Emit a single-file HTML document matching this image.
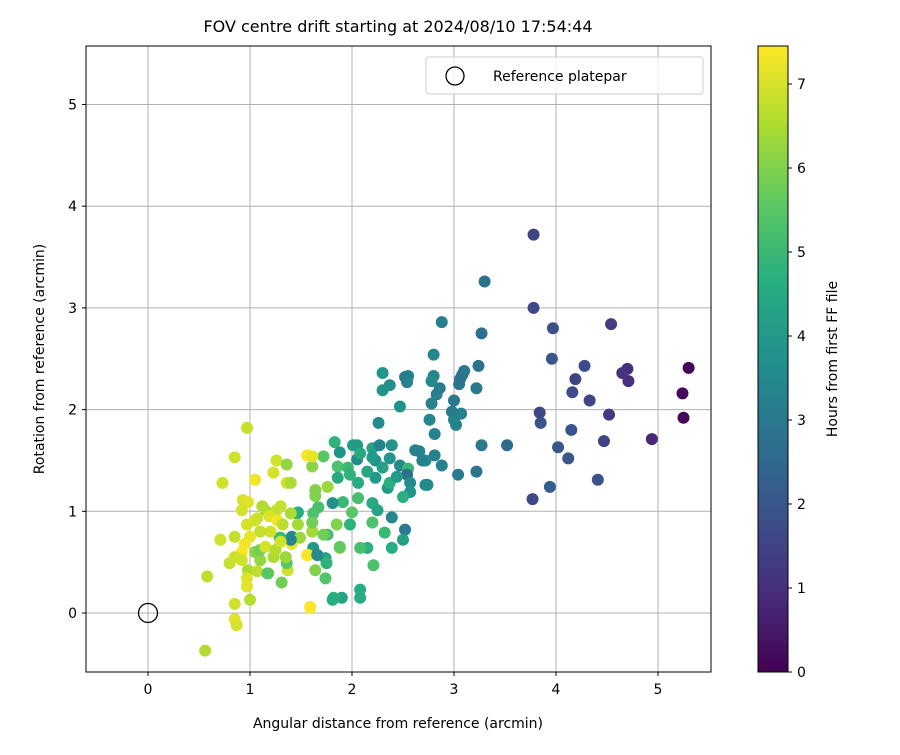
<!DOCTYPE html>
<html><head><meta charset="utf-8"><style>
body{margin:0;background:#fff}
svg text{font-family:"DejaVu Sans","Liberation Sans",sans-serif;fill:#000}
</style></head><body>
<svg id="chart" width="900" height="750" xmlns="http://www.w3.org/2000/svg">
<defs><linearGradient id="vir" x1="0" y1="1" x2="0" y2="0">
<stop offset="0" stop-color="#440154"/><stop offset="0.125" stop-color="#472d7b"/><stop offset="0.25" stop-color="#3b528b"/><stop offset="0.375" stop-color="#2c728e"/><stop offset="0.5" stop-color="#21918c"/><stop offset="0.625" stop-color="#28ae80"/><stop offset="0.75" stop-color="#5ec962"/><stop offset="0.875" stop-color="#addc30"/><stop offset="1" stop-color="#fde725"/></linearGradient>
<clipPath id="clip"><rect x="86" y="46" width="625" height="626"/></clipPath></defs>
<text x="398" y="32" font-size="16" text-anchor="middle">FOV centre drift starting at 2024/08/10 17:54:44</text>
<g id="grid"></g>
<g id="pts" clip-path="url(#clip)"></g>
<rect x="86" y="46" width="625" height="626" fill="none" stroke="#000" stroke-width="1"/>
<g id="axes"></g>
<text x="398" y="728" font-size="14" text-anchor="middle">Angular distance from reference (arcmin)</text>
<text transform="translate(44,359) rotate(-90)" font-size="14" text-anchor="middle">Rotation from reference (arcmin)</text>
<g>
<rect x="426" y="57" width="277" height="37" rx="3" fill="#fff" fill-opacity="0.8" stroke="#ccc"/>
<circle cx="455" cy="76" r="9" fill="none" stroke="#000" stroke-width="1.3"/>
<text x="493" y="81" font-size="14">Reference platepar</text>
</g>
<rect x="758" y="46" width="30" height="626" fill="url(#vir)" stroke="#000" stroke-width="1"/>
<g id="cbar"></g>
<text transform="translate(837,359) rotate(-90)" font-size="14" text-anchor="middle">Hours from first FF file</text>
</svg>
<script>
const xTicks=[0,1,2,3,4,5];
const yTicks=[0,1,2,3,4,5];
const cTicks=[0,1,2,3,4,5,6,7];
const refPoint=[0,0];
const xs=[5.30,5.24,5.25,4.94,4.70,4.71,4.65,4.54,4.52,4.47,4.33,4.28,4.19,4.16,4.15,4.12,4.41,4.02,3.97,3.96,3.94,3.85,3.84,3.78,3.78,3.77,3.52,3.30,3.27,3.27,3.24,3.22,3.22,3.10,3.08,3.06,3.05,3.07,3.00,2.98,3.02,3.00,3.04,2.88,2.80,2.80,2.78,2.83,2.86,2.78,2.76,2.81,2.81,2.88,2.74,2.72,2.66,2.55,2.52,2.54,2.47,2.37,2.30,2.30,2.26,
1.83,1.88,2.01,2.05,2.20,2.27,2.39,2.23,2.37,2.47,2.55,2.54,2.62,2.69,2.72,2.57,2.57,2.50,2.35,2.39,2.52,2.50,2.39,2.32,2.21,2.15,2.08,2.08,2.08,1.90,1.82,1.74,1.64,1.88,1.74,1.76,1.62,1.57,1.59,1.91,1.81,2.06,2.20,2.25,2.00,1.85,1.98,2.20,1.67,1.64,1.64,1.76,1.61,1.72,1.56,1.86,1.96,2.06,2.23,2.30,2.37,2.44,2.05,2.15,2.08,1.98,1.86,2.20,
0.97,0.85,0.73,1.05,1.26,1.23,1.36,1.36,1.40,1.57,1.61,0.93,0.98,0.92,1.15,1.26,1.46,1.62,1.07,1.19,1.27,1.32,0.97,0.85,0.71,0.92,1.05,0.80,0.98,1.07,1.18,1.31,1.10,1.23,1.37,1.36,1.29,1.41,1.41,1.56,1.49,1.61,1.66,0.97,0.97,1.00,0.85,0.85,0.87,0.58,0.56,1.59,1.10,0.92,0.85,1.05,1.17,1.47,1.61,1.47,1.72,1.75,1.81,1.88,1.66,1.40,1.30,
1.15,1.25,1.20,1.00,1.10,0.95,1.30,1.35,1.40,1.30,1.12];
const ys=[2.41,2.16,1.92,1.71,2.40,2.28,2.36,2.84,1.95,1.69,2.09,2.43,2.30,2.17,1.80,1.52,1.31,1.63,2.80,2.50,1.24,1.87,1.97,3.72,3.00,1.12,1.65,3.26,2.75,1.65,2.43,1.39,2.21,2.38,2.34,2.30,2.25,1.96,2.09,1.98,1.85,1.90,1.36,2.86,2.54,2.33,2.28,2.15,2.21,2.06,1.90,1.76,1.55,1.45,1.26,1.50,1.59,2.33,2.32,2.27,2.03,2.24,2.36,2.19,1.87,
1.68,1.58,1.65,1.65,1.62,1.65,1.65,1.50,1.52,1.45,1.42,1.36,1.60,1.50,1.26,1.28,1.19,1.14,1.23,0.94,0.82,0.72,0.64,0.79,0.47,0.64,0.64,0.23,0.15,0.15,0.15,0.34,0.42,0.64,0.54,0.77,0.64,0.57,0.06,1.09,1.08,1.13,1.08,1.01,0.99,0.87,0.87,0.89,1.04,1.21,1.15,1.24,1.44,1.54,1.55,1.44,1.43,1.28,1.33,1.43,1.28,1.34,1.51,1.39,1.57,1.36,1.33,1.53,
1.82,1.53,1.28,1.31,1.50,1.38,1.46,1.28,1.28,1.55,1.54,1.11,1.09,1.01,1.01,1.01,0.98,0.98,0.93,0.95,0.91,0.87,0.87,0.75,0.72,0.60,0.60,0.49,0.42,0.41,0.39,0.30,0.52,0.55,0.42,0.49,0.74,0.75,0.68,0.57,0.74,0.80,0.57,0.34,0.26,0.13,0.09,-0.06,-0.12,0.36,-0.37,0.05,0.62,0.52,0.55,0.91,0.39,0.87,0.89,0.99,0.77,0.49,0.13,0.65,0.57,0.72,0.74,
0.65,0.62,0.80,0.75,0.80,0.68,0.70,0.55,0.98,1.05,1.05];
const hours=[0.1,0.2,0.2,0.8,1.0,1.0,1.1,1.3,1.2,1.5,1.6,1.7,1.5,1.7,1.9,2.0,1.8,2.0,1.8,2.0,2.2,1.9,1.6,1.5,1.6,1.6,2.6,2.8,2.8,3.0,2.8,2.9,3.0,3.0,2.9,2.8,2.9,3.2,3.0,3.1,3.2,3.3,3.1,3.2,3.4,3.4,3.5,3.2,3.1,3.3,3.4,3.3,3.2,3.3,3.6,3.6,3.4,3.3,3.1,3.3,3.8,3.6,3.9,3.8,3.5,
4.8,3.8,4.2,4.0,4.3,3.3,3.8,3.8,3.9,3.5,5.0,2.7,3.2,3.3,3.5,3.6,3.9,4.7,4.0,3.4,3.0,4.2,4.6,5.0,5.3,4.7,5.2,4.6,4.6,4.3,4.8,5.4,6.0,6.1,4.3,5.2,4.0,7.3,7.3,5.0,3.8,5.2,4.5,4.3,5.5,6.0,4.8,5.3,5.2,6.0,6.0,6.3,6.1,5.5,7.3,5.3,5.0,4.6,4.0,4.2,4.7,4.0,3.6,4.4,4.5,4.8,4.5,4.0,
6.8,6.9,6.9,7.3,6.9,7.0,6.2,7.0,6.5,7.4,7.2,7.0,7.1,7.0,6.5,6.8,4.3,5.3,6.9,7.1,7.3,6.7,7.0,6.8,6.9,7.4,6.1,6.8,6.5,6.7,6.2,5.8,6.2,6.5,6.9,5.5,5.5,3.6,7.2,7.4,6.3,6.4,3.6,7.1,7.1,6.6,6.9,7.1,7.0,6.7,6.6,7.4,5.8,6.9,6.9,6.9,5.5,6.4,5.8,4.6,5.8,4.8,4.6,5.6,3.5,3.4,5.0,
7.0,6.6,6.9,7.2,6.8,7.3,6.9,6.3,6.5,6.8,6.6];
const NS="http://www.w3.org/2000/svg";
const X=v=>148+v*102, Y=v=>613-v*101.7, C=h=>672-h*84;
const hMax=7.45;
const stops=["#440154","#472d7b","#3b528b","#2c728e","#21918c","#28ae80","#5ec962","#addc30","#fde725"];
function hex(c){return [1,3,5].map(i=>parseInt(c.substr(i,2),16));}
function cmap(h){let t=Math.max(0,Math.min(1,h/hMax))*8;let i=Math.min(7,Math.floor(t));let f=t-i;let a=hex(stops[i]),b=hex(stops[i+1]);return "rgb("+a.map((v,k)=>Math.round(v+(b[k]-v)*f)).join(",")+")";}
function mk(tag,attrs,parent){const e=document.createElementNS(NS,tag);for(const k in attrs)e.setAttribute(k,attrs[k]);parent.appendChild(e);return e;}
const grid=document.getElementById('grid'),axes=document.getElementById('axes'),pts=document.getElementById('pts'),cbar=document.getElementById('cbar');
xTicks.forEach(v=>{
 const g=mk('line',{x1:X(v),x2:X(v),y1:46,y2:672,stroke:'#b0b0b0','stroke-width':1},grid);
 
 
 mk('line',{x1:X(v),x2:X(v),y1:672,y2:676,stroke:'#000'},axes);
 const t=mk('text',{x:X(v),y:694,'font-size':14,'text-anchor':'middle'},axes);t.textContent=v;
 
 
});
yTicks.forEach(v=>{
 const g=mk('line',{x1:86,x2:711,y1:Y(v),y2:Y(v),stroke:'#b0b0b0','stroke-width':1},grid);
 
 
 mk('line',{x1:82,x2:86,y1:Y(v),y2:Y(v),stroke:'#000'},axes);
 const t=mk('text',{x:77,y:Y(v)+5,'font-size':14,'text-anchor':'end'},axes);t.textContent=v;
 
 
});
cTicks.forEach(v=>{
 mk('line',{x1:788,x2:792,y1:C(v),y2:C(v),stroke:'#000'},cbar);
 const t=mk('text',{x:797,y:C(v)+5,'font-size':14},cbar);t.textContent=v;
 
 
});
xs.forEach((x,i)=>{
 const c=mk('circle',{cx:X(x),cy:Y(ys[i]),r:6,fill:cmap(hours[i])},pts);
 
 
});
const r=mk('circle',{cx:X(refPoint[0]),cy:Y(refPoint[1]),r:9.5,fill:'none',stroke:'#000','stroke-width':1.3},pts);


</script>
</body></html>
